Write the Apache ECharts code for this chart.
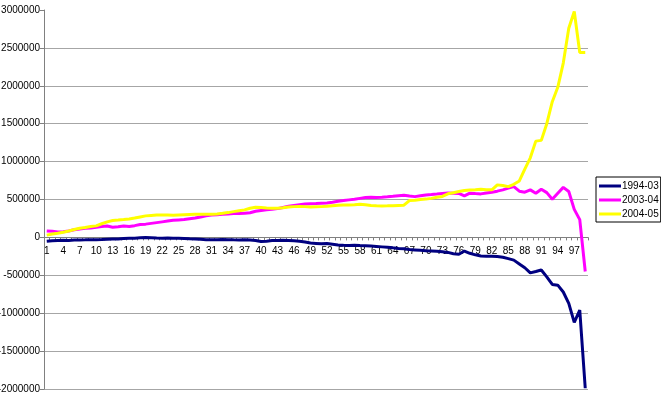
<!DOCTYPE html>
<html>
<head>
<meta charset="utf-8">
<script src="https://cdn.jsdelivr.net/npm/echarts@6/dist/echarts.min.js"></script>
<style>html,body{margin:0;padding:0;background:#fff;}#c{width:661px;height:394px;}</style>
</head>
<body>
<div id="c"></div>
<script>
var categories = [];
for (var i = 1; i <= 99; i++) categories.push(String(i));

var seriesNames = ['1994-03', '2003-04', '2004-05'];

var s1994 = [-50000,-45000,-40000,-38000,-40000,-35000,-33000,-32000,-30000,-30000,
-28000,-25000,-22000,-20000,-15000,-12000,-10000,-5000,-2000,-5000,
-8000,-10000,-8000,-10000,-12000,-15000,-18000,-20000,-25000,-30000,
-32000,-30000,-28000,-30000,-32000,-33000,-30000,-35000,-40000,-55000,
-50000,-42000,-40000,-38000,-40000,-45000,-52000,-62000,-75000,-80000,
-85000,-80000,-90000,-100000,-105000,-108000,-105000,-108000,-110000,-115000,
-120000,-125000,-130000,-138000,-145000,-150000,-160000,-165000,-170000,-175000,
-178000,-182000,-190000,-198000,-215000,-222000,-180000,-210000,-230000,-245000,
-250000,-248000,-252000,-262000,-280000,-300000,-350000,-400000,-468000,-450000,
-430000,-520000,-620000,-630000,-720000,-870000,-1120000,-960000,-1990000];

var s2003 = [86000,80000,72000,75000,85000,100000,110000,120000,125000,135000,
145000,150000,134000,140000,150000,145000,155000,170000,175000,185000,
195000,205000,215000,225000,230000,235000,245000,255000,270000,285000,
295000,300000,305000,310000,315000,315000,320000,325000,345000,355000,
365000,370000,380000,395000,410000,420000,430000,440000,445000,448000,
452000,455000,465000,478000,486000,495000,504000,515000,525000,530000,
528000,530000,535000,542000,550000,556000,545000,538000,550000,560000,
565000,572000,580000,585000,583000,580000,547000,583000,578000,574000,
585000,596000,610000,627000,650000,670000,610000,596000,627000,583000,
636000,591000,504000,583000,660000,605000,370000,235000,-450000];

var s2004 = [30000,45000,55000,68000,85000,105000,121000,130000,145000,152000,
180000,205000,222000,228000,235000,244000,255000,270000,284000,290000,
295000,297000,295000,292000,297000,300000,303000,306000,305000,306000,
306000,310000,318000,327000,340000,352000,363000,385000,398000,393000,
388000,385000,385000,392000,400000,406000,408000,406000,400000,403000,
406000,410000,418000,425000,428000,429000,432000,438000,430000,420000,
416000,415000,416000,418000,422000,425000,486000,490000,500000,505000,
515000,530000,540000,575000,590000,605000,618000,625000,630000,636000,
630000,627000,693000,685000,670000,700000,745000,900000,1050000,1270000,
1280000,1500000,1790000,1980000,2300000,2760000,2980000,2440000,2440000];

var yMin = -2000000, yMax = 3000000, yStep = 500000;

var font = 'Liberation Sans, Arial, sans-serif';
var gridColors = [];
for (var k = 0; k < 10; k++) gridColors.push('#a6a6a6');
gridColors.push('rgba(0,0,0,0)');

var gridTop = 10, gridBottomPx = 389, chartH = 394;
var zeroY = gridTop + (gridBottomPx - gridTop) * (yMax - 0) / (yMax - yMin);

var chart = echarts.init(document.getElementById('c'), null, {renderer: 'canvas'});
chart.setOption({
  animation: false,
  backgroundColor: '#ffffff',
  grid: {left: 44, right: 73, top: gridTop, bottom: chartH - gridBottomPx, containLabel: false, outerBoundsMode: 'none'},
  legend: {
    orient: 'vertical',
    left: 596, top: 177,
    data: seriesNames,
    icon: 'rect',
    itemWidth: 22, itemHeight: 3,
    itemGap: 4,
    padding: [4, 2, 3, 3],
    borderColor: '#000', borderWidth: 1,
    textStyle: {fontFamily: font, fontSize: 10, color: '#000', padding: [0,0,0,-4]}
  },
  xAxis: {
    type: 'category',
    data: categories,
    boundaryGap: true,
    position: 'bottom',
    offset: -(gridBottomPx - zeroY),
    axisLine: {onZero: false, lineStyle: {color: '#808080', width: 1}},
    axisTick: {show: true, interval: 0, length: 3, lineStyle: {color: '#808080'}},
    axisLabel: {interval: 2, fontFamily: font, fontSize: 10, color: '#000', margin: 9},
    splitLine: {show: false}
  },
  yAxis: {
    type: 'value',
    min: yMin, max: yMax, interval: yStep,
    axisLine: {show: true, lineStyle: {color: '#808080', width: 1}},
    axisTick: {show: true, length: 4, lineStyle: {color: '#808080'}},
    axisLabel: {fontFamily: font, fontSize: 10, color: '#000', margin: 4,
      formatter: function (v) { return String(v); }},
    splitLine: {show: true, lineStyle: {color: gridColors, width: 1}}
  },
  series: [
    {name: seriesNames[0], type: 'line', data: s1994, showSymbol: false, symbol: 'none',
     lineStyle: {color: '#000080', width: 3}, itemStyle: {color: '#000080'}},
    {name: seriesNames[1], type: 'line', data: s2003, showSymbol: false, symbol: 'none',
     lineStyle: {color: '#ff00ff', width: 3}, itemStyle: {color: '#ff00ff'}},
    {name: seriesNames[2], type: 'line', data: s2004, showSymbol: false, symbol: 'none',
     lineStyle: {color: '#ffff00', width: 3}, itemStyle: {color: '#ffff00'}}
  ]
});
</script>
</body>
</html>
